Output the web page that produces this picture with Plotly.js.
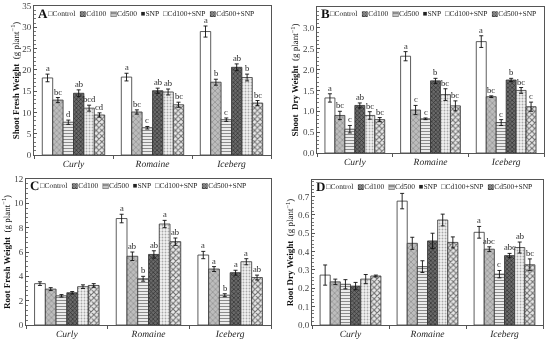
<!DOCTYPE html>
<html><head><meta charset="utf-8">
<script src="https://cdn.plot.ly/plotly-3.0.1.min.js"></script>
<style>html,body{margin:0;padding:0;background:#fff}
#chart{will-change:transform;transform:translateZ(0)}
#chart text{text-rendering:geometricPrecision}</style>
</head><body><div id="chart" style="width:550px;height:341px"></div>
<script>
// ---------------- DATA ----------------
const cultivars = ['Curly', 'Romaine', 'Iceberg'];
const treatments = ['Control', 'Cd100', 'Cd500', 'SNP', 'Cd100+SNP', 'Cd500+SNP'];

// Panel A: Shoot fresh weight (g plant-1); rows = treatments, cols = cultivars
const shootFreshMean = [[18.1, 18.3, 29.0], [12.9, 10.1, 17.1], [7.7, 6.4, 8.3], [14.5, 15.1, 20.6], [11.0, 14.8, 18.2], [9.4, 11.8, 12.2]];
const shootFreshErr = [[0.9, 0.9, 1.3], [0.6, 0.5, 0.7], [0.5, 0.3, 0.4], [0.8, 0.6, 0.8], [0.7, 0.7, 0.8], [0.5, 0.6, 0.6]];
const shootFreshLetters = [['a', 'a', 'a'], ['bc', 'bc', 'b'], ['d', 'c', 'c'], ['ab', 'ab', 'ab'], ['bcd', 'ab', 'b'], ['cd', 'bc', 'bc']];
const shootFreshTicks = [0, 5, 10, 15, 20, 25, 30, 35];

// Panel B: Shoot dry weight
const shootDryMean = [[1.32, 2.32, 2.67], [0.90, 1.03, 1.35], [0.57, 0.82, 0.73], [1.14, 1.73, 1.75], [0.90, 1.40, 1.50], [0.80, 1.13, 1.11]];
const shootDryErr = [[0.10, 0.11, 0.14], [0.10, 0.11, 0.02], [0.09, 0.02, 0.07], [0.06, 0.06, 0.04], [0.09, 0.14, 0.07], [0.05, 0.12, 0.11]];
const shootDryLetters = [['a', 'a', 'a'], ['bc', 'c', 'bc'], ['c', 'c', 'c'], ['ab', 'b', 'b'], ['bc', 'bc', 'bc'], ['bc', 'bc', 'c']];
const shootDryTicks = [0, 0.5, 1.0, 1.5, 2.0, 2.5, 3.0];

// Panel C: Root fresh weight
const rootFreshMean = [[3.4, 8.75, 5.75], [2.95, 5.65, 4.6], [2.4, 3.8, 2.45], [2.65, 5.8, 4.3], [3.15, 8.3, 5.2], [3.25, 6.85, 3.9]];
const rootFreshErr = [[0.15, 0.35, 0.3], [0.12, 0.35, 0.2], [0.1, 0.2, 0.12], [0.1, 0.3, 0.2], [0.15, 0.3, 0.25], [0.15, 0.3, 0.2]];
const rootFreshLetters = [['', 'a', 'a'], ['', 'ab', 'a'], ['', 'b', 'b'], ['', 'ab', 'a'], ['', 'a', 'a'], ['', 'ab', 'ab']];
const rootFreshTicks = [0, 2, 4, 6, 8, 10, 12];

// Panel D: Root dry weight
const rootDryMean = [[0.272, 0.675, 0.505], [0.235, 0.445, 0.413], [0.222, 0.318, 0.277], [0.212, 0.458, 0.378], [0.25, 0.572, 0.422], [0.267, 0.45, 0.328]];
const rootDryErr = [[0.055, 0.042, 0.032], [0.015, 0.033, 0.013], [0.025, 0.032, 0.02], [0.02, 0.042, 0.012], [0.025, 0.032, 0.03], [0.005, 0.03, 0.032]];
const rootDryLetters = [['', '', 'a'], ['', '', 'abc'], ['', '', 'c'], ['', '', 'abc'], ['', '', 'ab'], ['', '', 'bc']];
const rootDryTicks = [0, 0.1, 0.2, 0.3, 0.4, 0.5, 0.6, 0.7];

// ---------------- STYLE ----------------
const SERIF = 'Liberation Serif, Times New Roman, DejaVu Serif, serif';
const INK = '#222222';
const patterns = [
  {shape: '', bgcolor: '#ffffff', fgcolor: '#ffffff'},
  {shape: 'x', bgcolor: '#bdbdbd', fgcolor: '#8a8a8a', size: 4, solidity: 0.3},
  {shape: '-', bgcolor: '#ffffff', fgcolor: '#8c8c8c', size: 3, solidity: 0.45},
  {shape: 'x', bgcolor: '#6a6a6a', fgcolor: '#2e2e2e', size: 3, solidity: 0.4},
  {shape: '.', bgcolor: '#f2f2f2', fgcolor: '#a8a8a8', size: 3, solidity: 0.3},
  {shape: 'x', bgcolor: '#e8e8e8', fgcolor: '#6e6e6e', size: 4, solidity: 0.45}
];
const legendSymbols = ['\u25A1', '\u25A9', '\u25A4', '\u25A0', '\u25A1', '\u25A9'];
const BARGAP = 0.21;

const panels = [
  {id: '', letter: 'A', mean: shootFreshMean, err: shootFreshErr, letters: shootFreshLetters, ticks: shootFreshTicks,
   range: [0, 35], fmt: '', minor: 1, title: '<b>Shoot Fresh Weight</b>  (g plant<sup>\u22121</sup>)',
   xd: [34 / 550, 271 / 550], yd: [1 - 155 / 341, 1 - 6 / 341], standoff: 1},
  {id: '2', letter: 'B', mean: shootDryMean, err: shootDryErr, letters: shootDryLetters, ticks: shootDryTicks,
   range: [0, 3.5], fmt: '.1f', minor: 0.1, title: '<b>Shoot  Dry Weight</b>  (g plant<sup>\u22121</sup>)',
   xd: [317 / 550, 544 / 550], yd: [1 - 153 / 341, 1 - 7 / 341], standoff: 2},
  {id: '3', letter: 'C', mean: rootFreshMean, err: rootFreshErr, letters: rootFreshLetters, ticks: rootFreshTicks,
   range: [0, 12], fmt: '', minor: 0.4, title: '<b>Root Fresh Weight</b>  (g plant<sup>\u22121</sup>)',
   xd: [26 / 550, 271 / 550], yd: [1 - 325 / 341, 1 - 179 / 341], standoff: 3},
  {id: '4', letter: 'D', mean: rootDryMean, err: rootDryErr, letters: rootDryLetters, ticks: rootDryTicks,
   range: [0, 0.79], fmt: '.1f', minor: 0.02, title: '<b>Root Dry Weight</b>  (g plant<sup>\u22121</sup>)',
   xd: [312 / 550, 543 / 550], yd: [1 - 325 / 341, 1 - 180 / 341], standoff: 2}
];

const traces = [];
const annotations = [];
const layout = {
  width: 550, height: 341,
  margin: {l: 0, r: 0, t: 0, b: 0},
  paper_bgcolor: '#ffffff', plot_bgcolor: '#ffffff',
  barmode: 'group', bargap: BARGAP, bargroupgap: 0,
  showlegend: false,
  font: {family: SERIF, color: INK, size: 9},
  annotations: annotations
};

const legendText = treatments.map((t, j) => legendSymbols[j] + t).join('\u00a0\u00a0');

panels.forEach(p => {
  const xa = 'x' + p.id, ya = 'y' + p.id;
  const w = (1 - BARGAP) / treatments.length;
  treatments.forEach((t, j) => {
    traces.push({
      type: 'bar', name: t, x: cultivars, y: p.mean[j],
      xaxis: xa, yaxis: ya,
      marker: {color: patterns[j].bgcolor, line: {color: '#333', width: 0.8}, pattern: patterns[j]},
      error_y: {type: 'data', array: p.err[j], visible: true, color: '#111', thickness: 0.9, width: 2},
      hoverinfo: 'skip'
    });
    // significance letters above error bars
    cultivars.forEach((c, i) => {
      if (!p.letters[j][i]) return;
      annotations.push({
        xref: xa, yref: ya, x: i + (j - (treatments.length - 1) / 2) * w,
        y: p.mean[j][i] + p.err[j][i], yanchor: 'bottom', xanchor: 'center',
        text: p.letters[j][i], showarrow: false, yshift: -1,
        font: {family: SERIF, size: 8.5, color: INK}
      });
    });
  });
  layout['xaxis' + p.id] = {
    domain: p.xd, anchor: ya, type: 'category',
    showline: true, mirror: true, linecolor: '#555', linewidth: 1,
    ticks: 'outside', tickson: 'boundaries', ticklen: 3, tickcolor: '#555',
    tickfont: {family: SERIF, size: 9.5, style: 'italic', color: INK},
    showgrid: false, zeroline: false, fixedrange: true
  };
  layout['yaxis' + p.id] = {
    domain: p.yd, anchor: xa, range: p.range, autorange: false,
    tickmode: 'array', tickvals: p.ticks, tickformat: p.fmt,
    showline: true, mirror: true, linecolor: '#555', linewidth: 1,
    ticks: 'inside', ticklen: 3, tickcolor: '#555',
    minor: {dtick: p.minor, ticks: 'inside', ticklen: 1.5, tickcolor: '#777', showgrid: false},
    tickfont: {family: SERIF, size: 9, color: '#444'},
    showgrid: false, zeroline: false, automargin: false,
    title: {text: p.title, font: {family: SERIF, size: 9, color: '#111'}, standoff: p.standoff}
  };
  annotations.push({
    xref: xa + ' domain', yref: ya + ' domain', x: 0.008, y: 1 - 7 / 148,
    xanchor: 'left', yanchor: 'middle', showarrow: false,
    text: '<b>' + p.letter + '</b>', font: {family: SERIF, size: 13, color: '#111'}
  });
  annotations.push({
    xref: xa + ' domain', yref: ya + ' domain', x: 0.05, y: 1 - 7 / 148,
    xanchor: 'left', yanchor: 'middle', showarrow: false,
    text: legendText, font: {family: SERIF, size: 7.5, color: INK}
  });
});

Plotly.newPlot('chart', traces, layout, {staticPlot: true, displayModeBar: false});
</script>
</body></html>
